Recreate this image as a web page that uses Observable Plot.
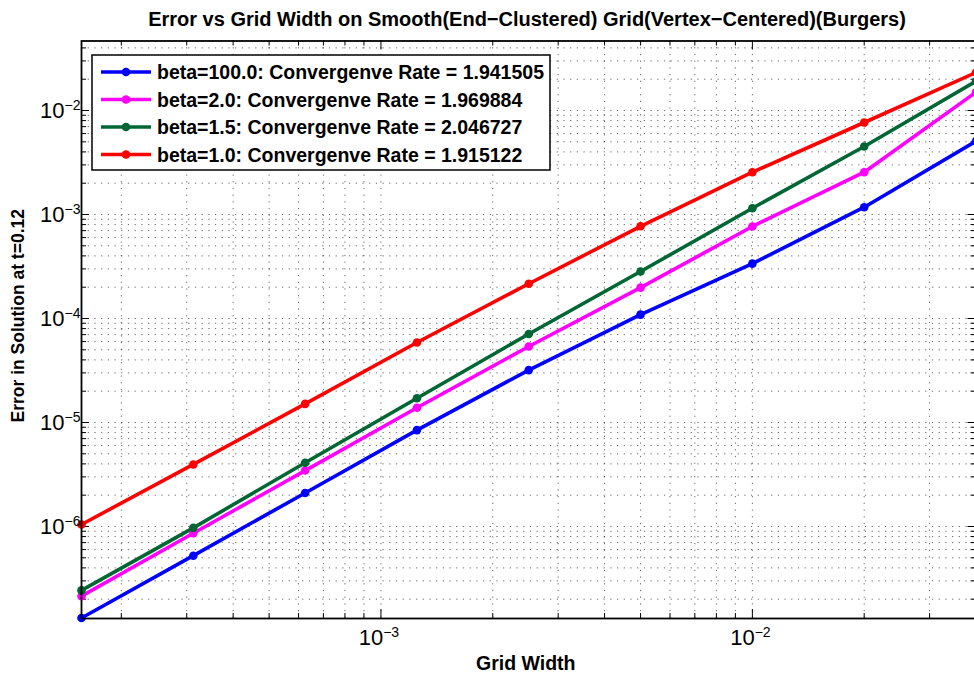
<!DOCTYPE html>
<html>
<head>
<meta charset="utf-8">
<script src="https://cdn.jsdelivr.net/npm/d3@7"></script>
<script src="https://cdn.jsdelivr.net/npm/@observablehq/plot@0.6"></script>
<style>
  body { margin: 0; background: #fff; font-family: "Liberation Sans", Arial, sans-serif; }
  #title { width: 894px; padding-left: 80px; height: 36px; line-height: 38px; text-align: center;
           font-weight: bold; font-size: 20px; color: #000; white-space: nowrap; }
  #chart svg { display: block; }
</style>
</head>
<body>
<div id="title"></div>
<div id="chart"></div>
<script>
// Grid widths (halving each refinement) and the measured solution error per beta
const gridWidth  = [1.5625e-4, 3.125e-4, 6.25e-4, 1.25e-3, 2.5e-3, 5e-3, 1e-2, 2e-2, 4e-2];
const errBeta100 = [1.32e-7, 5.24e-7, 2.10e-6, 8.45e-6, 3.19e-5, 1.09e-4, 3.37e-4, 1.175e-3, 5.07e-3];
const errBeta2   = [2.14e-7, 8.60e-7, 3.45e-6, 1.385e-5, 5.38e-5, 1.98e-4, 7.67e-4, 2.55e-3, 1.50e-2];
const errBeta15  = [2.43e-7, 9.70e-7, 4.10e-6, 1.71e-5, 7.10e-5, 2.83e-4, 1.15e-3, 4.51e-3, 1.91e-2];
const errBeta1   = [1.045e-6, 3.95e-6, 1.51e-5, 5.88e-5, 2.16e-4, 7.70e-4, 2.55e-3, 7.67e-3, 2.32e-2];

const seriesNames  = ["beta=100.0", "beta=2.0", "beta=1.5", "beta=1.0"];
const convergence  = ["1.941505", "1.969884", "2.046727", "1.915122"];
const seriesColors = ["#0000ff", "#ff00ff", "#006633", "#ff0000"];
const seriesErrors = [errBeta100, errBeta2, errBeta15, errBeta1];

// Axis limits and labelled decades
const xLimits = [1.5625e-4, 0.04];
const yLimits = [1.304e-7, 0.0466];
const xMajorTicks = [1e-3, 1e-2];
const yMajorTicks = [1e-6, 1e-5, 1e-4, 1e-3, 1e-2];

const titleText  = "Error vs Grid Width on Smooth(End−Clustered) Grid(Vertex−Centered)(Burgers)";
const xLabelText = "Grid Width";
const yLabelText = "Error in Solution at t=0.12";

// Every 1..9 multiple of each decade inside the limits (log grid lines)
function logTicks([lo, hi]) {
  const out = [];
  for (let e = Math.floor(Math.log10(lo)); e <= Math.ceil(Math.log10(hi)); e++)
    for (let k = 1; k <= 9; k++) {
      const v = k * Math.pow(10, e);
      if (v >= lo * 0.9999 && v <= hi * 1.0001) out.push(v);
    }
  return out;
}
const xAll = logTicks(xLimits), yAll = logTicks(yLimits);
const isDecade = v => Math.abs(Math.log10(v) - Math.round(Math.log10(v))) < 1e-9;
const xMinor = xAll.filter(v => !isDecade(v)), yMinor = yAll.filter(v => !isDecade(v));
const xMajor = xAll.filter(isDecade), yMajor = yAll.filter(isDecade);

const rows = seriesNames.flatMap((name, i) =>
  gridWidth.map((w, j) => ({series: name, width: w, error: seriesErrors[i][j]})));

const W = 974, H = 644;
const mL = 81, mR = -1.5, mT = 4.5, mB = 62;
const plotW = W - mL - mR, plotH = H - mT - mB;
const expLabel = d => `10^${Math.round(Math.log10(d))}`;
const gridStyle = {stroke: "#000", strokeOpacity: 0.6, strokeWidth: 1, strokeDasharray: "1.2,5.5"};

const chart = Plot.plot({
  width: W, height: H,
  marginLeft: mL, marginRight: mR, marginTop: mT, marginBottom: mB,
  style: {fontFamily: '"Liberation Sans", Arial, sans-serif', background: "white", color: "#000"},
  x: {type: "log", domain: xLimits, axis: null},
  y: {type: "log", domain: yLimits, axis: null},
  color: {domain: seriesNames, range: seriesColors},
  marks: [
    Plot.gridX(xAll, gridStyle),
    Plot.gridY(yAll, gridStyle),
    // inward tick marks on all four sides
    Plot.tickX(xMajor, {x: d => d, insetTop: plotH - 9}),
    Plot.tickX(xMinor, {x: d => d, insetTop: plotH - 5}),
    Plot.tickX(xMajor, {x: d => d, insetBottom: plotH - 9}),
    Plot.tickX(xMinor, {x: d => d, insetBottom: plotH - 5}),
    Plot.tickY(yMajor, {y: d => d, insetRight: plotW - 8}),
    Plot.tickY(yMinor, {y: d => d, insetRight: plotW - 5}),
    Plot.tickY(yMajor, {y: d => d, insetLeft: plotW - 8}),
    Plot.tickY(yMinor, {y: d => d, insetLeft: plotW - 5}),
    Plot.line(rows, {x: "width", y: "error", z: "series", stroke: "series", strokeWidth: 3.6}),
    Plot.dot(rows, {x: "width", y: "error", fill: "series", r: 4.3}),
    Plot.frame({stroke: "#000", strokeWidth: 1.8}),
    // decade tick labels (exponents raised afterwards)
    Plot.text(xMajorTicks, {x: d => d, frameAnchor: "bottom", dy: 26, dx: -2, text: expLabel,
      fontSize: 22, textAnchor: "middle"}),
    Plot.text(yMajorTicks, {y: d => d, frameAnchor: "left", dx: -1, dy: 0, text: expLabel,
      fontSize: 22, textAnchor: "end"}),
    Plot.text([xLabelText], {frameAnchor: "bottom", dx: -3, dy: 51, text: d => d,
      fontSize: 19.5, fontWeight: "bold", textAnchor: "middle"}),
    Plot.text([yLabelText], {frameAnchor: "left", dx: -63, dy: -14, rotate: -90, text: d => d,
      fontSize: 17.5, fontWeight: "bold", textAnchor: "middle"})
  ]
});

// Turn "10^-3" into 10 with a raised exponent
d3.select(chart).selectAll("text").each(function () {
  const m = /^10\^(-?\d+)$/.exec(this.textContent);
  if (!m) return;
  const t = d3.select(this);
  t.text(null);
  t.append("tspan").text("10");
  t.append("tspan").attr("dy", -8).attr("font-size", 14).text(m[1].replace("-", "−"));
});

// Legend box in the upper-left corner of the axes
const legend = d3.select(chart).append("g")
  .attr("font-family", '"Liberation Sans", Arial, sans-serif').attr("text-anchor", "start");
legend.append("rect").attr("x", 92).attr("y", 19).attr("width", 458).attr("height", 115)
  .attr("fill", "#fff").attr("stroke", "#000").attr("stroke-width", 1.5);
seriesNames.forEach((name, i) => {
  const cy = 36 + i * 27.5;
  legend.append("line").attr("x1", 101).attr("x2", 151).attr("y1", cy).attr("y2", cy)
    .attr("stroke", seriesColors[i]).attr("stroke-width", 3.6);
  legend.append("circle").attr("cx", 126).attr("cy", cy).attr("r", 4.3).attr("fill", seriesColors[i]);
  legend.append("text").attr("x", 157).attr("y", cy).attr("dy", "0.36em")
    .attr("text-anchor", "start")
    .attr("font-size", 19.5).attr("font-weight", "bold").attr("fill", "#000")
    .text(`${name}: Convergenve Rate = ${convergence[i]}`);
});

document.getElementById("title").textContent = titleText;
document.getElementById("chart").appendChild(chart);
</script>
</body>
</html>
